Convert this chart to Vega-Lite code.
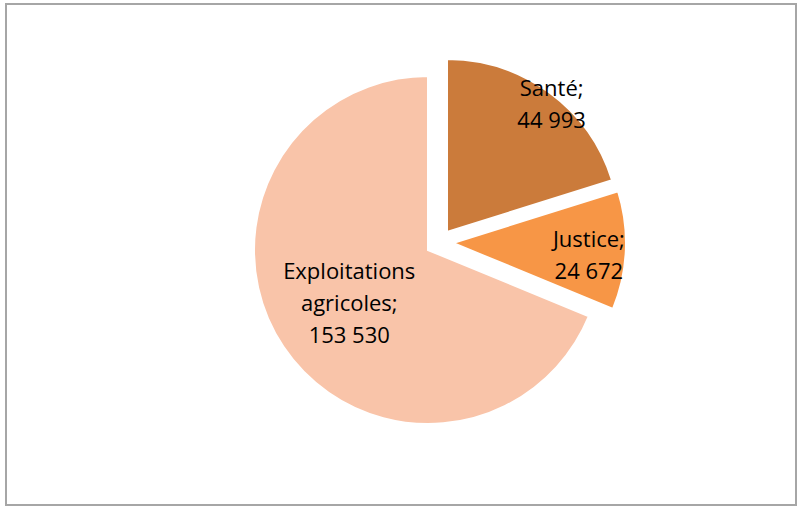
{
  "$schema": "https://vega.github.io/schema/vega-lite/v6.json",
  "width": 798,
  "height": 507,
  "autosize": {"type": "fit", "contains": "padding"},
  "padding": {"left": 6, "top": 4, "right": 2, "bottom": 2},
  "background": "#ffffff",
  "view": {"stroke": "#a6a6a6", "strokeWidth": 2},
  "config": {"text": {"font": "Open Sans"}},
  "data": {
    "values": [
      {"category": "Santé", "value": 44993, "label": "Santé;\n44 993"},
      {"category": "Justice", "value": 24672, "label": "Justice;\n24 672"},
      {"category": "Exploitations agricoles", "value": 153530, "label": "Exploitations\nagricoles;\n153 530"}
    ]
  },
  "encoding": {
    "theta": {"field": "value", "type": "quantitative", "stack": "zero"},
    "order": {"field": "category", "type": "nominal", "sort": "descending"}
  },
  "layer": [
    {
      "mark": {"type": "arc", "radius": 174, "stroke": "#ffffff", "strokeWidth": 2, "xOffset": 27, "yOffset": -4.5},
      "encoding": {
        "color": {"field": "category", "type": "nominal", "legend": null,
          "scale": {"domain": ["Santé", "Justice", "Exploitations agricoles"], "range": ["#CB7B3B", "#F79646", "#F9C4A9"]}},
        "opacity": {"condition": {"test": "datum.category === 'Exploitations agricoles'", "value": 1}, "value": 0}
      }
    },
    {
      "mark": {"type": "arc", "radius": 173, "stroke": "#ffffff", "strokeWidth": 2, "xOffset": 46, "yOffset": -22.5},
      "encoding": {
        "color": {"field": "category", "type": "nominal", "legend": null},
        "opacity": {"condition": {"test": "datum.category === 'Santé'", "value": 1}, "value": 0}
      }
    },
    {
      "mark": {"type": "arc", "radius": 173, "stroke": "#ffffff", "strokeWidth": 2, "xOffset": 52, "yOffset": -11.5},
      "encoding": {
        "color": {"field": "category", "type": "nominal", "legend": null},
        "opacity": {"condition": {"test": "datum.category === 'Justice'", "value": 1}, "value": 0}
      }
    },
    {
      "mark": {"type": "text", "radius": 96, "xOffset": 28, "yOffset": -4.5, "dy": -31, "fontSize": 22, "lineHeight": 32, "lineBreak": "\n", "align": "center", "baseline": "middle", "color": "#000000"},
      "encoding": {
        "detail": {"field": "category", "type": "nominal"},
        "text": {"condition": {"test": "datum.category === 'Exploitations agricoles'", "field": "label"}, "value": ""}
      }
    },
    {
      "mark": {"type": "text", "radius": 165, "xOffset": 46, "yOffset": -22.5, "dx": 7, "dy": -10, "fontSize": 22, "lineHeight": 32, "lineBreak": "\n", "align": "center", "baseline": "middle", "color": "#000000"},
      "encoding": {
        "detail": {"field": "category", "type": "nominal"},
        "text": {"condition": {"test": "datum.category === 'Santé'", "field": "label"}, "value": ""}
      }
    },
    {
      "mark": {"type": "text", "radius": 136, "xOffset": 52, "yOffset": -11.5, "dy": -9, "fontSize": 22, "lineHeight": 32, "lineBreak": "\n", "align": "center", "baseline": "middle", "color": "#000000"},
      "encoding": {
        "detail": {"field": "category", "type": "nominal"},
        "text": {"condition": {"test": "datum.category === 'Justice'", "field": "label"}, "value": ""}
      }
    }
  ]
}
